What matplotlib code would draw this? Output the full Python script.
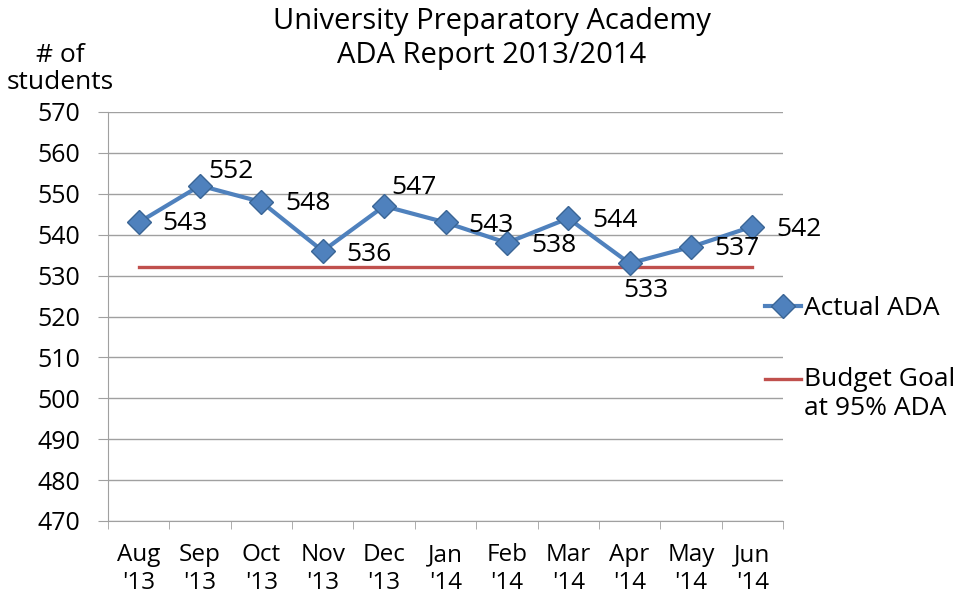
import matplotlib.pyplot as plt
from matplotlib.legend_handler import HandlerLine2D
import numpy as np

months = ["Aug\n'13", "Sep\n'13", "Oct\n'13", "Nov\n'13", "Dec\n'13", "Jan\n'14",
          "Feb\n'14", "Mar\n'14", "Apr\n'14", "May\n'14", "Jun\n'14"]
actual_ada = [543, 552, 548, 536, 547, 543, 538, 544, 533, 537, 542]
budget_goal = [532] * len(months)

# label offsets in pixels, relative to the marker
offsets = [(24, -1), (8, 14), (24, -2), (24, -3), (7, 19), (23, -3),
           (24, -3), (24, -2), (-6, -27), (23, -2), (24, -3)]

plt.rcParams['font.family'] = ['Open Sans', 'DejaVu Sans']

blue = '#4f81bd'
red = '#c0504d'
grey = '#a0a0a0'
fs = 19
tick_fs = 17.5


class FirstLineHandler(HandlerLine2D):
    # keep the legend line level with the first text line
    def create_artists(self, legend, orig_handle, xdescent, ydescent,
                       width, height, fontsize, trans):
        return super().create_artists(legend, orig_handle, xdescent,
                                      ydescent - fontsize * 1.2, width, height,
                                      fontsize, trans)


fig = plt.figure(figsize=(9.58, 5.99), dpi=100)
ax = fig.add_axes([108 / 958, 78 / 599, 675 / 958, 409 / 599])

x = np.arange(len(months))
goal_line, = ax.plot(x, budget_goal, color=red, lw=2.4, zorder=2)
ada_line, = ax.plot(x, actual_ada, color=blue, lw=3, marker='D', ms=12, mfc=blue,
                    mec='#3a6595', mew=1, zorder=3)

for xi, v, off in zip(x, actual_ada, offsets):
    ax.annotate(str(v), (xi, v), xytext=off, textcoords='offset pixels',
                fontsize=fs, ha='left', va='center')

ax.set_xlim(-0.5, len(months) - 0.5)
ax.set_ylim(470, 570)
ax.set_yticks(np.arange(470, 571, 10))
ax.yaxis.grid(True, color=grey, lw=1)
ax.set_axisbelow(True)
ax.set_xticks(x)
ax.set_xticklabels(months, fontsize=tick_fs, linespacing=1.22)
ax.set_xticks(np.arange(-0.5, len(months)), minor=True)
ax.tick_params(axis='x', which='major', length=0, pad=16)
ax.tick_params(axis='x', which='minor', length=6, color=grey)
ax.tick_params(axis='y', labelsize=tick_fs + 0.5, length=7, color=grey, pad=13)
for s in ['top', 'right']:
    ax.spines[s].set_visible(False)
for s in ['left', 'bottom']:
    ax.spines[s].set_color(grey)

fig.text(60 / 958, 1 - 95 / 599, '# of\nstudents', fontsize=fs,
         ha='center', va='bottom', linespacing=1.1)
fig.text(492 / 958, 1 - 7 / 599, 'University Preparatory Academy\nADA Report 2013/2014',
         fontsize=21, ha='center', va='top', linespacing=1.22)

fig.legend([ada_line, goal_line], ['Actual ADA', 'Budget Goal\nat 95% ADA'],
           loc='upper left', bbox_to_anchor=(765 / 958, 1 - 296 / 599),
           frameon=False, fontsize=fs, handlelength=1.35, handletextpad=0.12,
           labelspacing=1.75, borderpad=0, borderaxespad=0,
           handler_map={goal_line: FirstLineHandler()})

fig.savefig('out.png', dpi=100)
